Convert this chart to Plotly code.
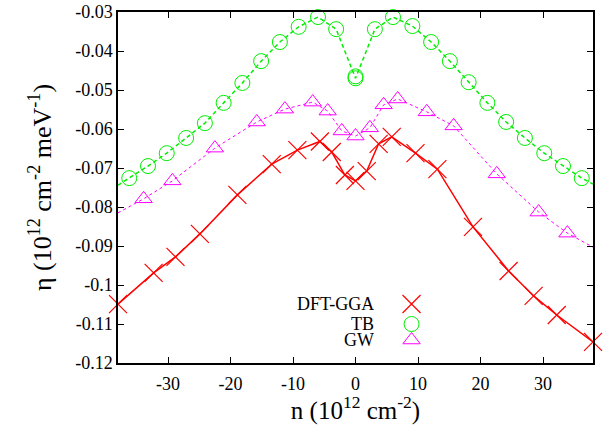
import plotly.graph_objects as go

# ---------------- data ----------------
dft_x = [-38.0, -32.3, -28.8, -24.9, -18.9, -13.4, -9.3, -5.7, -3.8, -1.7, 0.0,
         1.8, 3.7, 5.8, 9.6, 13.1, 18.8, 24.5, 28.5, 32.2, 38.0]
dft_y = [-0.1049, -0.0969, -0.0928, -0.0869, -0.0769, -0.0690, -0.0654, -0.0632, -0.0659, -0.0718, -0.0733,
         -0.0708, -0.0638, -0.0620, -0.0662, -0.0703, -0.0851, -0.0964, -0.1028, -0.1077, -0.1146]

tb_x = [-36.2, -33.2, -30.2, -27.1, -24.1, -21.1, -18.1, -15.1, -12.1, -9.1, -6.0, -3.1, 0.0, 0.0,
        3.1, 6.0, 9.1, 12.1, 15.1, 18.1, 21.1, 24.1, 27.1, 30.2, 33.2, 36.2]
tb_y = [-0.0726, -0.0695, -0.0662, -0.0623, -0.0585, -0.0533, -0.0482, -0.0426, -0.0377, -0.0338, -0.0313, -0.0344, -0.0465, -0.0470,
        -0.0344, -0.0313, -0.0336, -0.0377, -0.0426, -0.0480, -0.0533, -0.0582, -0.0623, -0.0662, -0.0695, -0.0726]
# line ends at the frame edges
tb_edge_x = [-38.0, 38.0]
tb_edge_y = [-0.0744, -0.0741]

gw_x = [-33.9, -29.3, -22.5, -15.8, -11.3, -6.85, -4.45, -2.2, 0.0,
        2.3, 4.5, 6.75, 11.4, 15.7, 22.6, 29.3, 33.9]
gw_y = [-0.0779, -0.0733, -0.0649, -0.0582, -0.0549, -0.0531, -0.0554, -0.0605, -0.0618,
        -0.0597, -0.0538, -0.0523, -0.0556, -0.0592, -0.0715, -0.0813, -0.0867]
gw_edge_x = [-38.0, 38.0]
gw_edge_y = [-0.0815, -0.0903]

x_tickvals = [-30, -20, -10, 0, 10, 20, 30]
x_ticktext = ["-30", "-20", "-10", "0", "10", "20", "30"]
y_tickvals = [-0.03, -0.04, -0.05, -0.06, -0.07, -0.08, -0.09, -0.10, -0.11, -0.12]
y_ticktext = ["-0.03", "-0.04", "-0.05", "-0.06", "-0.07", "-0.08", "-0.09", "-0.1", "-0.11", "-0.12"]

series_names = ["DFT-GGA", "TB", "GW"]

# ---------------- style ----------------
RED = "#ff0000"
GREEN = "#00ee00"
MAGENTA = "#ff00ff"
FONT = "Liberation Serif"
CROSS_SIZE, CIRCLE_SIZE, TRI_SIZE = 18, 15, 15

tb_line_x = [tb_edge_x[0]] + tb_x + [tb_edge_x[1]]
tb_line_y = [tb_edge_y[0]] + tb_y + [tb_edge_y[1]]
gw_line_x = [gw_edge_x[0]] + gw_x + [gw_edge_x[1]]
gw_line_y = [gw_edge_y[0]] + gw_y + [gw_edge_y[1]]

fig = go.Figure()

# lines
fig.add_trace(go.Scatter(x=gw_line_x, y=gw_line_y, mode="lines",
                         line=dict(color=MAGENTA, width=1, dash="dot"),
                         showlegend=False, hoverinfo="skip"))
fig.add_trace(go.Scatter(x=tb_line_x, y=tb_line_y, mode="lines",
                         line=dict(color=GREEN, width=1.5, dash="4px,3px"),
                         showlegend=False, hoverinfo="skip"))
fig.add_trace(go.Scatter(x=dft_x, y=dft_y, mode="lines",
                         line=dict(color=RED, width=1.5),
                         showlegend=False, hoverinfo="skip"))

# markers
fig.add_trace(go.Scatter(x=gw_x, y=gw_y, mode="markers", name=series_names[2],
                         marker=dict(symbol="triangle-up-open", size=TRI_SIZE, color=MAGENTA,
                                     line=dict(width=1, color=MAGENTA)),
                         cliponaxis=False, showlegend=False))
fig.add_trace(go.Scatter(x=tb_x, y=tb_y, mode="markers", name=series_names[1],
                         marker=dict(symbol="circle-open", size=CIRCLE_SIZE, color=GREEN,
                                     line=dict(width=1, color=GREEN)),
                         cliponaxis=False, showlegend=False))
fig.add_trace(go.Scatter(x=dft_x, y=dft_y, mode="markers", name=series_names[0],
                         marker=dict(symbol="x-thin", size=CROSS_SIZE, color=RED,
                                     line=dict(width=1.2, color=RED)),
                         cliponaxis=False, showlegend=False))

# ---------------- custom legend (key on the right of the text, gnuplot style) ----------------
legend_key_x = 0.618
legend_text_x = 0.540
legend_rows_y = [0.168, 0.111, 0.0655]
legend_symbols = ["x-thin", "circle-open", "triangle-up-open"]
legend_colors = [RED, GREEN, MAGENTA]
legend_sizes = [CROSS_SIZE, CIRCLE_SIZE, TRI_SIZE]
for name, ry, sym, col, sz in zip(series_names, legend_rows_y, legend_symbols, legend_colors, legend_sizes):
    fig.add_trace(go.Scatter(x=[legend_key_x], y=[ry], xaxis="x2", yaxis="y2", mode="markers",
                             marker=dict(symbol=sym, size=sz, color=col, line=dict(width=1.2 if sym == "x-thin" else 1, color=col)),
                             showlegend=False, hoverinfo="skip", cliponaxis=False))
    fig.add_annotation(x=legend_text_x, y=ry, xref="paper", yref="paper", text=name,
                       showarrow=False, xanchor="right", yanchor="middle", height=16, borderpad=0,
                       font=dict(family=FONT, size=18, color="black"))

axis_common = dict(showgrid=False, zeroline=False, showline=True, linecolor="black", linewidth=1.5,
                   mirror="ticks", ticks="inside", ticklen=6, tickwidth=1, tickcolor="black",
                   automargin=False,
                   tickfont=dict(family=FONT, size=18, color="black"))

fig.update_layout(
    width=612, height=425,
    margin=dict(l=118, r=19, t=12, b=62, autoexpand=False),
    paper_bgcolor="white", plot_bgcolor="white",
    font=dict(family=FONT, color="black"),
    showlegend=False,
    xaxis=dict(range=[-38, 38], tickvals=x_tickvals, ticktext=x_ticktext,
               title=dict(text="n (10<sup>12</sup> cm<sup>-2</sup>)", font=dict(family=FONT, size=25, color="black"),
                          standoff=0),
               ticklabelstandoff=4, **axis_common),
    yaxis=dict(range=[-0.12, -0.03], tickvals=y_tickvals, ticktext=y_ticktext,
               title=dict(text="η (10<sup>12</sup> cm<sup>-2</sup> meV<sup>-1</sup>)",
                          font=dict(family=FONT, size=26, color="black"), standoff=16),
               ticklabelstandoff=0, **axis_common),
    xaxis2=dict(range=[0, 1], overlaying="x", visible=False, fixedrange=True, automargin=False),
    yaxis2=dict(range=[0, 1], overlaying="y", visible=False, fixedrange=True, automargin=False),
)

fig.write_html("out.html", config={"displayModeBar": False},
               post_script="document.body.style.margin='0';document.body.style.padding='0';")
